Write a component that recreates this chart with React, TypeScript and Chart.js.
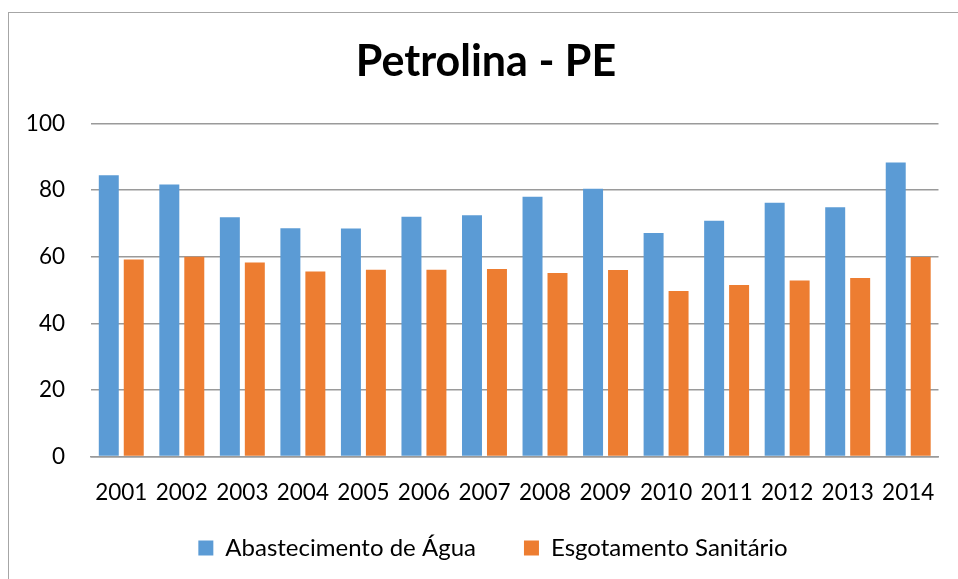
import React, { useEffect, useRef } from 'react';
import { Chart, registerables } from 'chart.js';

Chart.register(...registerables);

const years = ['2001', '2002', '2003', '2004', '2005', '2006', '2007', '2008', '2009', '2010', '2011', '2012', '2013', '2014'];
const abastecimentoAgua = [84.5, 81.7, 71.9, 68.6, 68.5, 72.0, 72.5, 78.0, 80.4, 67.1, 70.8, 76.2, 74.9, 88.3];
const esgotamentoSanitario = [59.2, 60.0, 58.3, 55.6, 56.1, 56.1, 56.3, 55.1, 56.0, 49.7, 51.5, 52.9, 53.6, 59.9];
const yMin = 0;
const yMax = 100;
const yStep = 20;

const FONT = 'Lato, Carlito, Calibri, sans-serif';

const shiftPlugin = {
  id: 'shiftBlocks',
  afterLayout(chart: any) {
    const x = chart.scales.x;
    if (x) x.bottom = chart.height;
    if (chart.titleBlock) chart.titleBlock.left += 24;
    if (chart.legend) chart.legend.left += 38;
  },
};

export default function App() {
  const ref = useRef<HTMLCanvasElement | null>(null);

  useEffect(() => {
    if (!ref.current) return;
    const chart = new Chart(ref.current, {
      type: 'bar',
      data: {
        labels: years,
        datasets: [
          {
            label: 'Abastecimento de Água',
            data: abastecimentoAgua,
            backgroundColor: '#5B9BD5',
            borderWidth: 0,
          },
          {
            label: 'Esgotamento Sanitário',
            data: esgotamentoSanitario,
            backgroundColor: '#ED7D31',
            borderWidth: 0,
          },
        ],
      },
      plugins: [shiftPlugin],
      options: {
        animation: false,
        responsive: false,
        devicePixelRatio: 1,
        datasets: {
          bar: {
            categoryPercentage: 0.825,
            barPercentage: 0.8,
          },
        },
        layout: { padding: { left: 0, right: 19, top: 0, bottom: 9 } },
        plugins: {
          title: {
            display: true,
            text: 'Petrolina - PE',
            color: '#000',
            font: { family: FONT, size: 43, weight: 'bold', lineHeight: 1.2 },
            padding: { top: 23, bottom: 36 },
          },
          legend: {
            position: 'bottom',
            labels: {
              color: '#000',
              font: { family: FONT, size: 24 },
              boxWidth: 15,
              boxHeight: 15,
              padding: 48,
            },
          },
          tooltip: { enabled: false },
        },
        scales: {
          x: {
            grid: { display: false, drawTicks: false },
            border: { display: true, color: '#9a9a9a', width: 1.5 },
            ticks: {
              color: '#000',
              font: { family: FONT, size: 22.5 },
              padding: 23,
              maxRotation: 0,
              autoSkip: false,
            },
            afterFit: (s: any) => {
              s.height = 31.5;
            },
          },
          y: {
            min: yMin,
            max: yMax,
            grid: { color: '#9a9a9a', lineWidth: 1.5, drawTicks: false },
            border: { display: false },
            ticks: {
              stepSize: yStep,
              color: '#000',
              font: { family: FONT, size: 22.5 },
              padding: 26,
            },
            afterFit: (s: any) => {
              s.width = 82;
            },
          },
        },
      },
    });
    return () => chart.destroy();
  }, []);

  return (
    <div
      style={{
        position: 'absolute',
        left: 8,
        top: 12,
        width: 950,
        height: 567,
        borderLeft: '1px solid #a6a6a6',
        borderTop: '1px solid #a6a6a6',
        boxSizing: 'border-box',
        background: '#fff',
      }}
    >
      <canvas ref={ref} width={949} height={566} style={{ display: 'block' }} />
    </div>
  );
}
